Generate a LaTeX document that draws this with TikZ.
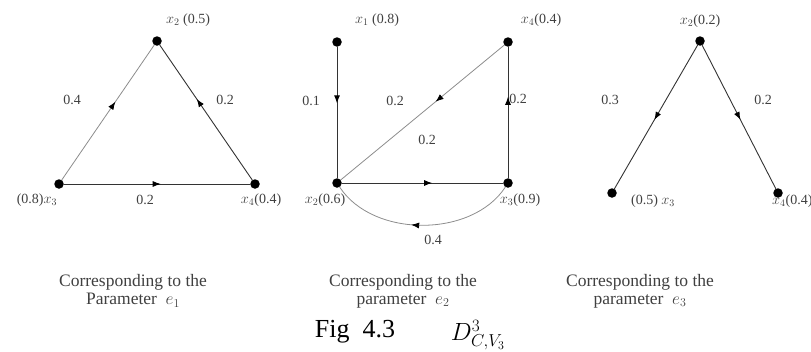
\documentclass[tikz,border=0pt]{standalone}
\usepackage{fontspec}
\setmainfont{Liberation Serif}
\usetikzlibrary{arrows.meta,decorations.markings}
\tikzset{
  vert/.style={circle,fill=black,inner sep=0pt,minimum size=9.5pt},
  edge/.style={draw=black!80,line width=0.9pt},
  thinedge/.style={draw=black!45,line width=0.8pt},
  midarrow/.style={postaction={decorate},decoration={markings,
      mark=at position #1 with {\arrow[black]{Latex[length=8pt,width=6pt]}}}},
  lbl/.style={font=\fontsize{14}{16}\selectfont,text=black!75,inner sep=0pt},
  capt/.style={font=\fontsize{17.5}{18}\selectfont,text=black!75,align=center,inner sep=0pt},
}
\begin{document}
\begin{tikzpicture}[x=1pt, y=-1pt, line cap=round, line join=round]
    \useasboundingbox (0,0) rectangle (811,351);
    % graph for e_1
    \node[vert] (a2) at (157,41) {};
    \node[vert] (a3) at (59,184) {};
    \node[vert] (a4) at (255,184) {};
    \draw[thinedge,midarrow=0.58] (a3) -- (a2);
    \draw[edge,midarrow=0.60] (a4) -- (a2);
    \draw[edge,midarrow=0.52] (a3) -- (a4);
    \node[lbl] (la2) at (188,20) {$x_2$ (0.5)};
    \node[lbl] (la3) at (37,200) {(0.8)$x_3$};
    \node[lbl] (la4) at (261,200) {$x_4$(0.4)};
    \node[lbl] (wa1) at (72,100) {0.4};
    \node[lbl] (wa2) at (225,100) {0.2};
    \node[lbl] (wa3) at (145,200) {0.2};
    % graph for e_2
    \node[vert] (b1) at (337,42) {};
    \node[vert] (b4) at (508,42) {};
    \node[vert] (b2) at (337,183) {};
    \node[vert] (b3) at (508,183) {};
    \draw[edge,midarrow=0.43] (b1) -- (b2);
    \draw[thinedge,midarrow=0.42] (b4) -- (b2);
    \draw[edge,midarrow=0.62] (b3) -- (b4);
    \draw[edge,midarrow=0.56] (b2) -- (b3);
    \draw[thinedge,midarrow=0.56] (b3) .. controls (472,238) and (373,238) .. (b2);
    \node[lbl] (lb1) at (377,20) {$x_1$ (0.8)};
    \node[lbl] (lb4) at (541,20) {$x_4$(0.4)};
    \node[lbl] (lb2) at (325,200) {$x_2$(0.6)};
    \node[lbl] (lb3) at (520,200) {$x_3$(0.9)};
    \node[lbl] (wb1) at (311,101) {0.1};
    \node[lbl] (wb2) at (395,101) {0.2};
    \node[lbl] (wb3) at (427,140) {0.2};
    \node[lbl] (wb4) at (518,99) {0.2};
    \node[lbl] (wb5) at (433,240) {0.4};
    % graph for e_3
    \node[vert] (c2) at (700,41) {};
    \node[vert] (c3) at (612,193) {};
    \node[vert] (c4) at (778,193) {};
    \draw[edge,midarrow=0.52] (c2) -- (c3);
    \draw[edge,midarrow=0.52] (c2) -- (c4);
    \node[lbl] (lc2) at (700,21) {$x_2$(0.2)};
    \node[lbl] (lc3) at (653,201) {(0.5) $x_3$};
    \node[lbl,anchor=west] (lc4) at (772,201) {$x_4$(0.4)};
    \node[lbl] (wc1) at (610,100) {0.3};
    \node[lbl] (wc2) at (763,100) {0.2};
    % captions
    \node[capt] (ca) at (133,291) {Corresponding to the\\Parameter \ $e_1$};
    \node[capt] (cb) at (403,291) {Corresponding to the\\parameter \ $e_2$};
    \node[capt] (cc) at (640,291) {Corresponding to the\\parameter \ $e_3$};
    \node[font=\fontsize{26}{30}\selectfont,inner sep=0pt] (fig) at (355,332) {Fig \ 4.3};
    \node[font=\fontsize{25}{28}\selectfont,inner sep=0pt] (fsym) at (478,335) {$D^3_{C,V_3}$};
\end{tikzpicture}
\end{document}
